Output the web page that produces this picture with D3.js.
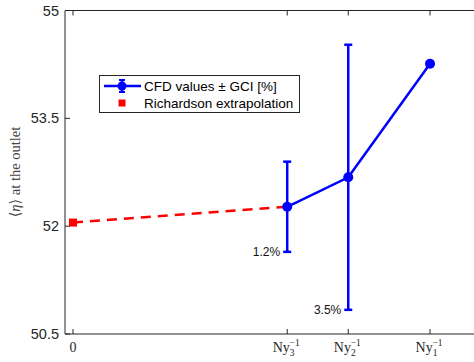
<!DOCTYPE html>
<html>
<head>
<meta charset="utf-8">
<script src="https://cdn.jsdelivr.net/npm/d3@7"></script>
<style>
  html, body { margin: 0; padding: 0; background: #fff; }
  svg { display: block; }
</style>
</head>
<body>
<svg id="chart" width="474" height="362"></svg>
<script>
// Grid spacing (1/Ny) for the three meshes, plus the extrapolated limit at 0
const meshLabels = ["3", "2", "1"];
const meshX = [0.600, 0.771, 1.000];
const cfdValues = [52.27, 52.68, 54.26];
const gciPercent = [1.2, 3.5, 0];
const gciLabels = ["1.2%", "3.5%"];
const richardsonX = 0;
const richardsonValue = 52.05;
const yTicks = [50.5, 52, 53.5, 55];

const svg = d3.select("#chart");
const plotLeft = 65, plotTop = 10.5, plotBottom = 334, plotRight = 475;

const x = d3.scaleLinear().domain([-0.0224, 1.126]).range([plotLeft, plotRight]);
const y = d3.scaleLinear().domain([50.5, 55]).range([plotBottom, plotTop]);

const axisColor = "#262626";

// Axes box (left, bottom, top)
const axG = svg.append("g");
axG.append("path")
  .attr("d", `M${plotRight},${plotTop}H${plotLeft}V${plotBottom}H${plotRight}`)
  .attr("fill", "none").attr("stroke", axisColor).attr("stroke-width", 1);

// Y ticks (inward) and labels
yTicks.forEach(v => {
  axG.append("line").attr("x1", plotLeft).attr("x2", plotLeft + 5)
    .attr("y1", y(v)).attr("y2", y(v)).attr("stroke", axisColor);
  axG.append("text").attr("x", plotLeft - 6).attr("y", y(v))
    .attr("text-anchor", "end").attr("dominant-baseline", "central")
    .attr("font-family", "Liberation Sans, Arial, sans-serif")
    .attr("font-size", 14.5).attr("fill", axisColor)
    .text(d3.format("")(v));
});

// X ticks (inward, bottom and top)
const xTickVals = [richardsonX, ...meshX];
xTickVals.forEach(v => {
  axG.append("line").attr("x1", x(v)).attr("x2", x(v))
    .attr("y1", plotBottom).attr("y2", plotBottom - 5).attr("stroke", axisColor);
  axG.append("line").attr("x1", x(v)).attr("x2", x(v))
    .attr("y1", plotTop).attr("y2", plotTop + 5).attr("stroke", axisColor);
});

// X tick labels (serif, LaTeX-like)
const serif = "Liberation Serif, DejaVu Serif, serif";
axG.append("text").attr("x", x(0)).attr("y", 352)
  .attr("text-anchor", "middle").attr("font-family", serif)
  .attr("font-size", 14).attr("fill", axisColor).text("0");
meshX.forEach((v, i) => {
  const t = axG.append("text").attr("x", x(v) - 1).attr("y", 352)
    .attr("text-anchor", "middle").attr("font-family", serif)
    .attr("font-size", 14).attr("fill", axisColor);
  t.append("tspan").text("Ny");
  t.append("tspan").attr("font-size", 9.5).attr("dy", 4).text(meshLabels[i]);
  t.append("tspan").attr("font-size", 9.5).attr("dx", -5).attr("dy", -10).text("\u22121");
});

// Y axis title
svg.append("text")
  .attr("transform", `translate(20,${172}) rotate(-90)`)
  .attr("text-anchor", "middle").attr("font-family", serif)
  .attr("font-size", 14.5).attr("fill", "#444")
  .html('\u27E8<tspan font-style="italic">\u03B7</tspan>\u27E9 at the outlet');

// Richardson extrapolation: dashed link to the finest mesh
svg.append("line")
  .attr("x1", x(richardsonX)).attr("y1", y(richardsonValue))
  .attr("x2", x(meshX[0])).attr("y2", y(cfdValues[0]))
  .attr("stroke", "#ff0000").attr("stroke-width", 2.5)
  .attr("stroke-dasharray", "10,7");
svg.append("rect")
  .attr("x", x(richardsonX) - 4).attr("y", y(richardsonValue) - 4)
  .attr("width", 8).attr("height", 8).attr("fill", "#ff0000");

// CFD values with GCI error bars
const blue = "#0000ff";
const pts = meshX.map((v, i) => ({ x: v, y: cfdValues[i], e: cfdValues[i] * gciPercent[i] / 100 }));
svg.append("path")
  .attr("d", d3.line().x(d => x(d.x)).y(d => y(d.y))(pts))
  .attr("fill", "none").attr("stroke", blue).attr("stroke-width", 2.5);
pts.forEach(d => {
  if (d.e > 0) {
    const cx = x(d.x);
    svg.append("line").attr("x1", cx).attr("x2", cx)
      .attr("y1", y(d.y - d.e)).attr("y2", y(d.y + d.e))
      .attr("stroke", blue).attr("stroke-width", 2.5);
    [d.y - d.e, d.y + d.e].forEach(v => {
      svg.append("line").attr("x1", cx - 4).attr("x2", cx + 4)
        .attr("y1", y(v)).attr("y2", y(v))
        .attr("stroke", blue).attr("stroke-width", 2.5);
    });
  }
  svg.append("circle").attr("cx", x(d.x)).attr("cy", y(d.y)).attr("r", 5).attr("fill", blue);
});

// GCI annotations next to the lower bar ends
gciLabels.forEach((lab, i) => {
  const d = pts[i];
  svg.append("text").attr("x", x(d.x) - 7).attr("y", y(d.y - d.e))
    .attr("text-anchor", "end").attr("dominant-baseline", "central")
    .attr("font-family", "Liberation Sans, Arial, sans-serif")
    .attr("font-size", 12).attr("fill", "#111").text(lab);
});

// Legend
const lg = svg.append("g");
lg.append("rect").attr("x", 99.5).attr("y", 75.5).attr("width", 200).attr("height", 37)
  .attr("fill", "#fff").attr("stroke", axisColor).attr("stroke-width", 1);
lg.append("line").attr("x1", 104).attr("x2", 141).attr("y1", 86).attr("y2", 86)
  .attr("stroke", blue).attr("stroke-width", 2.5);
lg.append("line").attr("x1", 122).attr("x2", 122).attr("y1", 80).attr("y2", 92)
  .attr("stroke", blue).attr("stroke-width", 2.5);
lg.append("line").attr("x1", 119).attr("x2", 125).attr("y1", 80).attr("y2", 80)
  .attr("stroke", blue).attr("stroke-width", 2);
lg.append("line").attr("x1", 119).attr("x2", 125).attr("y1", 92).attr("y2", 92)
  .attr("stroke", blue).attr("stroke-width", 2);
lg.append("circle").attr("cx", 122).attr("cy", 86).attr("r", 4.5).attr("fill", blue);
lg.append("rect").attr("x", 118.5).attr("y", 99.5).attr("width", 7).attr("height", 7).attr("fill", "#ff0000");
const legendFont = "Liberation Sans, Arial, sans-serif";
lg.append("text").attr("x", 144).attr("y", 86).attr("dominant-baseline", "central")
  .attr("font-family", legendFont).attr("font-size", 13.5).attr("fill", "#000")
  .text("CFD values \u00B1 GCI [%]");
lg.append("text").attr("x", 144).attr("y", 103.5).attr("dominant-baseline", "central")
  .attr("font-family", legendFont).attr("font-size", 13.5).attr("fill", "#000")
  .text("Richardson extrapolation");
</script>
</body>
</html>
